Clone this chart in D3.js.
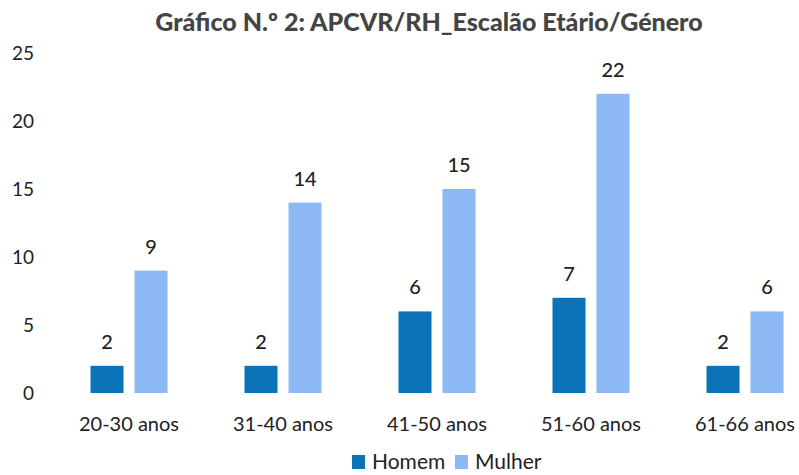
<!DOCTYPE html>
<html>
<head>
<meta charset="utf-8">
<script src="https://cdn.jsdelivr.net/npm/d3@7"></script>
<style>
  body { margin: 0; background: #fff; }
  text { font-family: Lato, "Open Sans", sans-serif; fill: #222; }
</style>
</head>
<body>
<div id="chart"></div>
<script>
var categories = ["20-30 anos", "31-40 anos", "41-50 anos", "51-60 anos", "61-66 anos"];
var series = ["Homem", "Mulher"];
var homem  = [2, 2, 6, 7, 2];
var mulher = [9, 14, 15, 22, 6];
var yTicks = [0, 5, 10, 15, 20, 25];
var colors = ["#0b74b9", "#8cb9f4"];

var width = 799, height = 475;

var svg = d3.select("#chart").append("svg")
    .attr("width", width)
    .attr("height", height);

var x0 = d3.scaleBand().domain(categories).range([52, 822])
    .paddingInner(0.5).paddingOuter(0.25);
var x1 = d3.scaleBand().domain(series).range([0, x0.bandwidth()]).paddingInner(0.25);
var y = d3.scaleLinear().domain([0, 25]).range([393, 53]);
var color = d3.scaleOrdinal().domain(series).range(colors);

// title
svg.append("text")
  .attr("x", 429).attr("y", 31)
  .attr("text-anchor", "middle")
  .attr("font-size", 25).attr("font-weight", 900)
  .style("fill", "#444")
  .text("Gráfico N.º 2: APCVR/RH_Escalão Etário/Género");

// y axis, labels only
var yAxis = svg.append("g")
  .attr("transform", "translate(34,0)")
  .call(d3.axisLeft(y).tickValues(yTicks).tickSize(0).tickPadding(0));
yAxis.select(".domain").remove();
yAxis.selectAll("text").attr("font-size", 19).style("font-family", "Lato, sans-serif").style("fill", "#222");

// x axis, labels only
var xAxis = svg.append("g")
  .attr("transform", "translate(0,413)")
  .call(d3.axisBottom(x0).tickSize(0).tickPadding(4));
xAxis.select(".domain").remove();
xAxis.selectAll("text").attr("font-size", 20).style("font-family", "Lato, sans-serif").style("fill", "#222");

var rows = categories.map(function(c, i) {
  return { cat: c, values: [{ s: "Homem", v: homem[i] }, { s: "Mulher", v: mulher[i] }] };
});

var groups = svg.selectAll(".grp").data(rows).enter().append("g")
  .attr("class", "grp")
  .attr("transform", function(d) { return "translate(" + x0(d.cat) + ",0)"; });

groups.selectAll("rect").data(function(d) { return d.values; }).enter().append("rect")
  .attr("x", function(d) { return x1(d.s); })
  .attr("width", x1.bandwidth())
  .attr("y", function(d) { return y(d.v); })
  .attr("height", function(d) { return y(0) - y(d.v); })
  .attr("fill", function(d) { return color(d.s); });

groups.selectAll(".lbl").data(function(d) { return d.values; }).enter().append("text")
  .attr("class", "lbl")
  .attr("x", function(d) { return x1(d.s) + x1.bandwidth() / 2; })
  .attr("y", function(d) { return y(d.v) - 17; })
  .attr("text-anchor", "middle")
  .attr("font-size", 20).attr("font-weight", 500)
  .text(function(d) { return d.v; });

// legend
var legend = svg.append("g").attr("transform", "translate(352,455)");
var lx = [0, 103];
series.forEach(function(s, i) {
  var it = legend.append("g").attr("transform", "translate(" + lx[i] + ",0)");
  it.append("rect").attr("width", 13).attr("height", 14).attr("fill", color(s));
  it.append("text").attr("x", 20).attr("y", 14).attr("font-size", 21).text(s);
});
</script>
</body>
</html>
